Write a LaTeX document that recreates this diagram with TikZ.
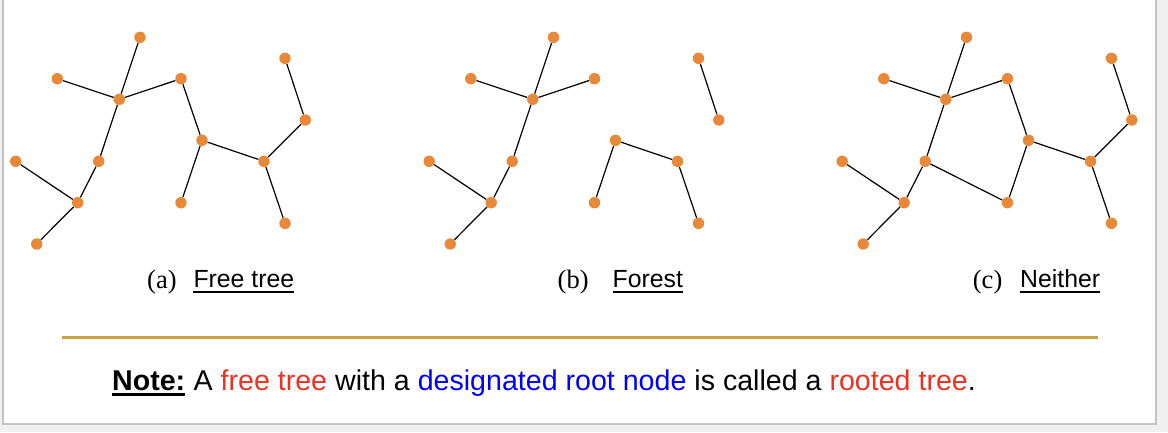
\documentclass[tikz,border=0pt]{standalone}
\usepackage{fontspec}
\setmainfont{Liberation Serif}
\setsansfont{Liberation Sans}
\definecolor{dotorange}{RGB}{232,137,58}
\definecolor{notered}{RGB}{234,51,35}
\definecolor{noteblue}{RGB}{0,0,250}
\definecolor{goldline}{RGB}{201,164,60}
\definecolor{framegray}{RGB}{192,196,200}
\definecolor{outergray}{RGB}{240,240,240}
\pgfdeclarelayer{back}
\pgfdeclarelayer{edges}
\pgfsetlayers{back,edges,main}
\tikzset{
  dot/.style={circle, fill=dotorange, draw=none, minimum size=11.4pt, inner sep=0pt},
  edge/.style={black, line width=1.2pt},
  capnum/.style={anchor=base west, inner sep=0pt, font=\rmfamily\fontsize{26.5}{30}\selectfont},
  capword/.style={anchor=base west, inner sep=0pt, font=\sffamily\fontsize{24.8}{28}\selectfont},
  capline/.style={black, line width=2pt},
  notetext/.style={anchor=base west, inner sep=0pt, font=\sffamily\fontsize{28.6}{32}\selectfont}
}
\newcommand{\treenodes}[2]{%
  \foreach \n/\px/\py in {A/140/37.3, B/57.3/78.7, C/119.3/99.3, D/181/78.7, E/285/58.3,
      F/305.3/120, G/202/140.3, H/264/161.3, I/98.7/161.3, J/15.7/161.3,
      K/77.7/202.7, L/181/202.7, M/285/223.3, N/36.7/244}
    {\node[dot] (#1\n) at ({\px+#2},\py) {};}%
}
\newcommand{\treeedges}[2]{%
  \begin{pgfonlayer}{edges}
  \foreach \u/\v in {#2} {\draw[edge] (#1\u) -- (#1\v);}
  \end{pgfonlayer}%
}
\begin{document}
\begin{tikzpicture}[x=1pt, y=-1pt]
\useasboundingbox (0,0) rectangle (1168,432);
\begin{pgfonlayer}{back}
  \fill[outergray] (0,0) rectangle (1168,432);
  \draw[framegray, line width=2pt, fill=white] (3,-10) rectangle (1156,424);
\end{pgfonlayer}
% (a) free tree
\treenodes{a}{0}
\treeedges{a}{A/C, B/C, C/D, C/I, I/K, J/K, K/N, D/G, G/L, G/H, H/F, F/E, H/M}
% (b) forest
\treenodes{b}{413.5}
\treeedges{b}{A/C, B/C, C/D, C/I, I/K, J/K, K/N, E/F, G/L, G/H, H/M}
% (c) neither
\treenodes{c}{826.5}
\treeedges{c}{A/C, B/C, C/D, C/I, I/K, J/K, K/N, D/G, G/L, G/H, H/F, F/E, H/M, I/L}
% captions
\node[capnum] (capa) at (147,288.5) {(a)};
\node[capword] (wa) at (193.3,287) {Free tree};
\draw[capline] ([yshift=-4.7pt]wa.base west) -- ([yshift=-4.7pt]wa.base east);
\node[capnum] (capb) at (557.5,288.5) {(b)};
\node[capword] (wb) at (612.5,287) {Forest};
\draw[capline] ([yshift=-4.7pt]wb.base west) -- ([yshift=-4.7pt]wb.base east);
\node[capnum] (capc) at (972.7,288.5) {(c)};
\node[capword] (wc) at (1020,287) {Neither};
\draw[capline] ([yshift=-4.7pt]wc.base west) -- ([yshift=-4.7pt]wc.base east);
% separator
\coordinate (sepL) at (62,337.5);
\coordinate (sepR) at (1098,337.5);
\draw[goldline, line width=2.5pt] (sepL) -- (sepR);
% note
\node[notetext] (note) at (112,390) {\bfseries Note:};
\draw[black, line width=2.5pt] ([yshift=-4.5pt]note.base west) -- ([yshift=-4.5pt]note.base east);
\node[notetext] (body) at (note.base east) {\ A \textcolor{notered}{free tree} with a \textcolor{noteblue}{designated root node} is called a \textcolor{notered}{rooted tree}.};
\end{tikzpicture}
\end{document}
